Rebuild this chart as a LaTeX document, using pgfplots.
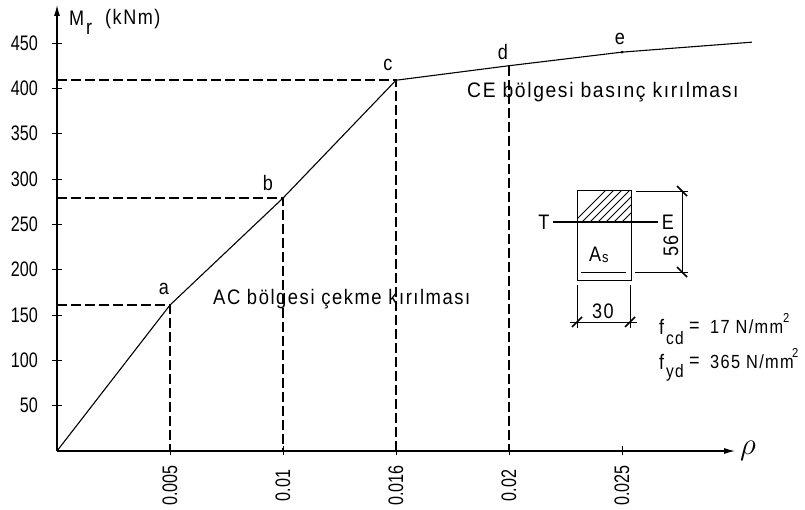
\documentclass[border=0pt]{standalone}
\usepackage{pgfplots}
\pgfplotsset{compat=1.18}
\usepackage{fontspec}
\setmainfont[FakeStretch=0.86,LetterSpace=7.2]{Liberation Sans}
\newfontfamily\tickfont[FakeStretch=0.77]{Liberation Sans}
\usetikzlibrary{arrows.meta}
\pgfplotstableread{
x y
0 0
0.005 161
0.01 279
0.015 409
0.02 425
0.025 440
0.03075 451
}\curve
\begin{document}
\begin{tikzpicture}[font=\fontsize{21}{22}\selectfont]
\begin{axis}[
  scale only axis, width=678pt, height=446pt,
  xmin=0, xmax=0.03, ymin=0, ymax=492,
  axis lines=left, clip=false,
  axis line style={line width=1.2pt, -{Latex[length=11pt,width=6pt]}},
  xtick={0.005,0.01,0.015,0.02,0.025},
  xticklabels={0.005,0.01,0.016,0.02,0.025},
  ytick={50,100,...,450},
  tick align=center,
  major tick length=9pt,
  tick style={line width=1pt, black},
  tick label style={font=\tickfont\fontsize{21}{22}\selectfont},
  x tick label style={rotate=90, anchor=center, xshift=-30pt},
  y tick label style={anchor=east, xshift=-11pt},
  /pgf/number format/assume math mode=true,
  scaled x ticks=false,
  xticklabel style={/pgf/number format/fixed,/pgf/number format/precision=3},
]
\addplot[line width=1.1pt, black] table {\curve};
\addplot[only marks, mark=*, mark size=1.1pt, black] coordinates {(0.025,440)};
\addplot[black, line width=1.4pt, dash pattern=on 10pt off 4pt] coordinates {(0,161) (0.005,161) (0.005,0)};
\addplot[black, line width=1.4pt, dash pattern=on 10pt off 4pt] coordinates {(0,279) (0.01,279) (0.01,0)};
\addplot[black, line width=1.4pt, dash pattern=on 10pt off 4pt] coordinates {(0,409.3) (0.015,409.3) (0.015,0)};
\addplot[black, line width=1.4pt, dash pattern=on 10pt off 4pt] coordinates {(0.02,425) (0.02,0)};
\end{axis}
\begin{scope}[shift={(-57pt,451pt)}, x=1pt, y=-1pt]
\path (0,0) rectangle (805,509);
% labels
\node[anchor=west, inner sep=0] at (69,18) {M};
\node[anchor=west, inner sep=0] at (86,29) {r};
\node[anchor=west, inner sep=0] at (105,19) {(kNm)};
\node at (748,451) {\scalebox{1.5}{$\rho$}};
\node at (164,289) {a};
\node at (268,183) {b};
\node at (388,65) {c};
\node at (503,52) {d};
\node at (620,39) {e};
\node[anchor=west, inner sep=0] at (213,299) {\scalebox{1.02}[1]{AC bölgesi çekme kırılması}};
\node[anchor=west, inner sep=0] at (467,92) {\scalebox{1.07}[1]{CE bölgesi basınç kırılması}};
% section
\begin{scope}
\clip (577,191) rectangle (631,222);
\foreach \i in {0,8,...,96} \draw[line width=0.8pt] (570+\i,226) -- (570+\i+40,186);
\end{scope}
\draw[line width=1pt] (577,191) rectangle (631,222);
\draw[line width=0.9pt] (577,222) rectangle (631,280);
\draw[line width=1.3pt] (553,222) -- (658,222);
\draw[line width=0.8pt] (581,272) -- (626,272);
\node at (544,222) {T};
\node at (668,222) {E};
\node[anchor=west, inner sep=0] at (589,254) {A};
\node[anchor=west, inner sep=0] at (602,259) {\fontsize{15}{16}\selectfont s};
% dimensions
\draw[line width=0.8pt] (636,191) -- (688,191);
\draw[line width=0.8pt] (635,272) -- (688,272);
\draw[line width=0.8pt] (682,191) -- (682,272);
\draw[line width=1.6pt] (677,186) -- (687,196);
\draw[line width=1.6pt] (677,267) -- (687,277);
\node[rotate=90] at (671,246) {56};
\draw[line width=0.8pt] (577,285) -- (577,328);
\draw[line width=0.8pt] (630,285) -- (630,328);
\draw[line width=0.8pt] (570,322) -- (637,322);
\draw[line width=1.6pt] (572,327) -- (582,317);
\draw[line width=1.6pt] (625,327) -- (635,317);
\node at (603,311) {30};
% formulae
\node[anchor=west, inner sep=0] at (659,327) {f};
\node[anchor=west, inner sep=0] at (666,338) {\fontsize{18}{19}\selectfont cd};
\node[anchor=west, inner sep=0] at (689,327) {=};
\node[anchor=west, inner sep=0] at (710,327) {\fontsize{19}{22}\selectfont 17 N/mm};
\node[anchor=west, inner sep=0] at (783,318) {\fontsize{13}{14}\selectfont 2};
\node[anchor=west, inner sep=0] at (659,362) {f};
\node[anchor=west, inner sep=0] at (666,373) {\fontsize{18}{19}\selectfont yd};
\node[anchor=west, inner sep=0] at (689,362) {=};
\node[anchor=west, inner sep=0] at (710,362) {\fontsize{19}{22}\selectfont 365 N/mm};
\node[anchor=west, inner sep=0] at (792,353) {\fontsize{13}{14}\selectfont 2};
\end{scope}
\end{tikzpicture}
\end{document}
